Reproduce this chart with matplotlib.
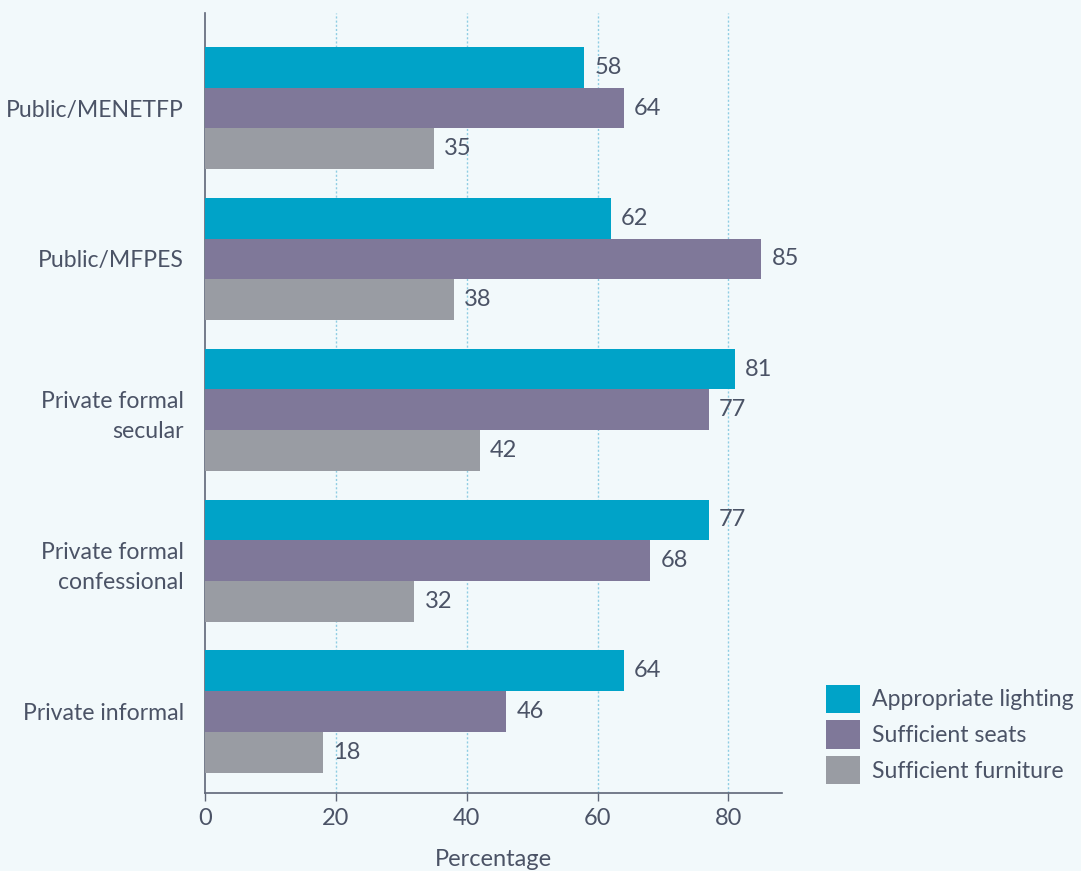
import matplotlib
matplotlib.use("Agg")
import matplotlib.pyplot as plt
from matplotlib.patches import Patch
import numpy as np

categories = ["Public/MENETFP", "Public/MFPES", "Private formal\nsecular",
              "Private formal\nconfessional", "Private informal"]
series_names = ["Appropriate lighting", "Sufficient seats", "Sufficient furniture"]
lighting = [58, 62, 81, 77, 64]
seats = [64, 85, 77, 68, 46]
furniture = [35, 38, 42, 32, 18]
x_ticks = [0, 20, 40, 60, 80]

colors = ["#00a3c8", "#7f7899", "#999ca3"]
bg = "#f2f9fb"
text_color = "#4b5366"
axis_color = "#5f6677"

plt.rcParams["font.family"] = ["Lato", "DejaVu Sans"]
fs = 17
fs_cat = 16.6

fig = plt.figure(figsize=(10.81, 8.71), dpi=100, facecolor=bg)
ax = fig.add_axes([0.1896, 0.0896, 0.5338, 0.8955], facecolor=bg)

bar_h = 0.27
y = np.arange(len(categories))
for i, (vals, col) in enumerate(zip([lighting, seats, furniture], colors)):
    pos = y + (i - 1) * bar_h
    ax.barh(pos, vals, height=bar_h, color=col, zorder=3)
    for p, v in zip(pos, vals):
        ax.annotate(f"{v}", xy=(v, p), xytext=(7.5, 0), textcoords="offset points",
                    va="center", ha="left", fontsize=fs, color=text_color)

ax.set_xlim(0, 88.2)
ax.set_ylim(4.54, -0.63)
ax.set_yticks(y)
ax.set_yticklabels(categories, fontsize=fs_cat, color=text_color, ha="right",
                   multialignment="right", linespacing=1.55)
ax.tick_params(axis="y", length=0, pad=15)
ax.set_xticks(x_ticks)
ax.set_xticklabels([str(t) for t in x_ticks], fontsize=fs, color=text_color)
ax.tick_params(axis="x", length=6, width=1, color=axis_color, pad=5)

for t in x_ticks[1:]:
    ax.axvline(t, color="#8fcde3", lw=1, ls=(0, (1.5, 1.5)), zorder=1)

for s in ["top", "right"]:
    ax.spines[s].set_visible(False)
for s in ["left", "bottom"]:
    ax.spines[s].set_color(axis_color)
    ax.spines[s].set_linewidth(1.2)

ax.set_xlabel("Percentage", fontsize=fs, color=text_color, labelpad=14)

handles = [Patch(facecolor=c, edgecolor="none") for c in colors]
fig.legend(handles, series_names, loc="lower left", bbox_to_anchor=(0.749, 0.081),
           frameon=False, fontsize=fs_cat, labelcolor=text_color,
           handlelength=1.5, handleheight=1.5, handletextpad=0.5, labelspacing=0.33,
           borderpad=0.2)

fig.savefig("out.png", dpi=100, facecolor=bg)
